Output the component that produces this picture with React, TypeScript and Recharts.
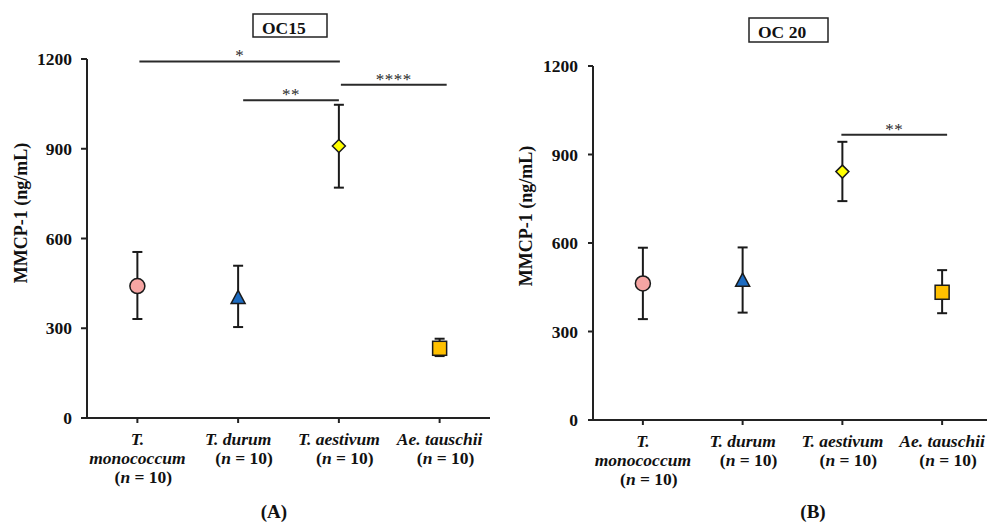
import React from 'react'
import { ScatterChart, Scatter, XAxis, YAxis, ErrorBar, ReferenceLine } from 'recharts'

const FONT = '"Liberation Serif", "Times New Roman", serif'

// categories (x positions are band centres on a 0..4 axis)
const categoryLines = [['T.', 'monococcum'], ['T. durum'], ['T. aestivum'], ['Ae. tauschii']]
const categoryX = [0.5, 1.5, 2.5, 3.5]
const markers = ['circle', 'triangle', 'diamond', 'square']
const markerColors = ['#F6A5A3', '#1D6CC2', '#FFFF00', '#FFC000']
const yTicks = [0, 300, 600, 900, 1200]

// OC15 (panel A): mean, lower whisker, upper whisker
const oc15Mean = [441, 403, 909, 233]
const oc15Low = [331, 304, 770, 207]
const oc15High = [555, 509, 1047, 265]

// OC 20 (panel B)
const oc20Mean = [463, 474, 842, 433]
const oc20Low = [342, 364, 742, 362]
const oc20High = [584, 585, 943, 508]

// significance brackets: [x from, x to, y, stars]
const oc15Sig: [number, number, number, string][] = [
  [0.52, 2.51, 1192, '*'],
  [1.55, 2.5, 1062, '**'],
  [2.52, 3.57, 1114, '****'],
]
const oc20Sig: [number, number, number, string][] = [[2.49, 3.55, 967, '**']]

function buildRows(mean: number[], low: number[], high: number[]) {
  return categoryX.map((x, i) => ({
    x,
    y: mean[i],
    err: [mean[i] - low[i], high[i] - mean[i]],
    marker: markers[i],
    color: markerColors[i],
  }))
}

function Marker(props: any) {
  const { cx, cy, payload } = props
  const s = { stroke: '#1a1a1a', strokeWidth: 1.5, fill: payload.color }
  if (payload.marker === 'circle') return <circle cx={cx} cy={cy} r={7.5} {...s} />
  if (payload.marker === 'triangle')
    return <path d={`M${cx},${cy - 7} L${cx + 7},${cy + 6} L${cx - 7},${cy + 6} Z`} {...s} />
  if (payload.marker === 'diamond')
    return <path d={`M${cx},${cy - 6.5} L${cx + 6.5},${cy} L${cx},${cy + 6.5} L${cx - 6.5},${cy} Z`} {...s} />
  return <rect x={cx - 7} y={cy - 7} width={14} height={14} {...s} />
}

function XTick(props: any) {
  const { x, y, payload } = props
  const idx = Math.round(payload.value - 0.5)
  const lines = categoryLines[idx] || []
  const base = y + 20
  return (
    <g>
      {lines.map((t, i) => (
        <text key={i} x={x} y={base + i * 19} textAnchor="middle" fontFamily={FONT} fontSize={17.5}
          fontWeight="bold" fontStyle="italic" fill="#111">{t}</text>
      ))}
      <text x={x + 6} y={base + lines.length * 19} textAnchor="middle" fontFamily={FONT} fontSize={17.5}
        fontWeight="bold" fill="#111">
        (<tspan fontStyle="italic">n</tspan> = 10)
      </text>
    </g>
  )
}

function Panel({ rows, sig, width, yWidth, top, bottom, tickSize, tickMargin, labelX, labelY }: any) {
  return (
    <ScatterChart width={width} height={523} margin={{ top, right: 0, bottom, left: 0 }}>
      <XAxis type="number" dataKey="x" domain={[0, 4]} ticks={categoryX} interval={0} height={80}
        tickSize={5} tickMargin={2} tick={<XTick />} axisLine={{ stroke: '#222', strokeWidth: 2 }}
        tickLine={{ stroke: '#222', strokeWidth: 2 }} />
      <YAxis type="number" dataKey="y" domain={[0, 1200]} ticks={yTicks} width={yWidth}
        tickSize={tickSize} tickMargin={tickMargin}
        tick={{ fontFamily: FONT, fontSize: 17.5, fontWeight: 'bold', fill: '#111' }}
        axisLine={{ stroke: '#222', strokeWidth: 2 }} tickLine={{ stroke: '#222', strokeWidth: 2 }}
        label={() => (
          <text transform={`translate(${labelX},${labelY}) rotate(-90)`} textAnchor="middle"
            dominantBaseline="central" fontFamily={FONT} fontSize={18} fontWeight="bold" fill="#111">
            MMCP-1 (ng/mL)
          </text>
        )} />
      {sig.map(([x1, x2, y, stars]: any, i: number) => (
        <ReferenceLine key={i} segment={[{ x: x1, y }, { x: x2, y }]} stroke="#2a2a2a" strokeWidth={2}
          ifOverflow="visible"
          label={(p: any) => {
            const vb = p.viewBox || {}
            return (
              <text x={vb.x + (vb.width || 0) / 2} y={vb.y} textAnchor="middle" fontFamily={FONT}
                fontSize={17} fill="#2a2a2a" letterSpacing={0.5}>{stars}</text>
            )
          }} />
      ))}
      <Scatter data={rows} isAnimationActive={false} shape={() => <g />}>
        <ErrorBar dataKey="err" direction="y" width={5} stroke="#1a1a1a" strokeWidth={2} />
      </Scatter>
      <Scatter data={rows} isAnimationActive={false} shape={<Marker />} />
    </ScatterChart>
  )
}

export default function App() {
  const rowsA = buildRows(oc15Mean, oc15Low, oc15High)
  const rowsB = buildRows(oc20Mean, oc20Low, oc20High)
  return (
    <div style={{ position: 'absolute', left: 0, top: 0, width: 987, height: 523, overflow: 'hidden', background: '#fff' }}>
      <div style={{ position: 'absolute', left: 0, top: 0 }}>
        <Panel rows={rowsA} sig={oc15Sig} width={490} yWidth={87} top={59} bottom={25}
          tickSize={6} tickMargin={9} labelX={21} labelY={213} />
      </div>
      <div style={{ position: 'absolute', left: 490, top: 0 }}>
        <Panel rows={rowsB} sig={oc20Sig} width={502} yWidth={103} top={66} bottom={23}
          tickSize={5} tickMargin={10} labelX={36} labelY={216} />
      </div>
      <svg width={987} height={523} style={{ position: 'absolute', left: 0, top: 0, pointerEvents: 'none' }}>
        <rect x={253} y={14} width={74} height={23} fill="none" stroke="#222" strokeWidth={1.5} />
        <text x={262} y={34} fontFamily={FONT} fontSize={17.5} fontWeight="bold" fill="#111">OC15</text>
        <rect x={749} y={18} width={79} height={24} fill="none" stroke="#222" strokeWidth={1.5} />
        <text x={758} y={38} fontFamily={FONT} fontSize={17.5} fontWeight="bold" fill="#111">OC 20</text>
        <text x={274} y={518} textAnchor="middle" fontFamily={FONT} fontSize={19} fontWeight="bold" fill="#111">(A)</text>
        <text x={813} y={518} textAnchor="middle" fontFamily={FONT} fontSize={19} fontWeight="bold" fill="#111">(B)</text>
      </svg>
    </div>
  )
}
